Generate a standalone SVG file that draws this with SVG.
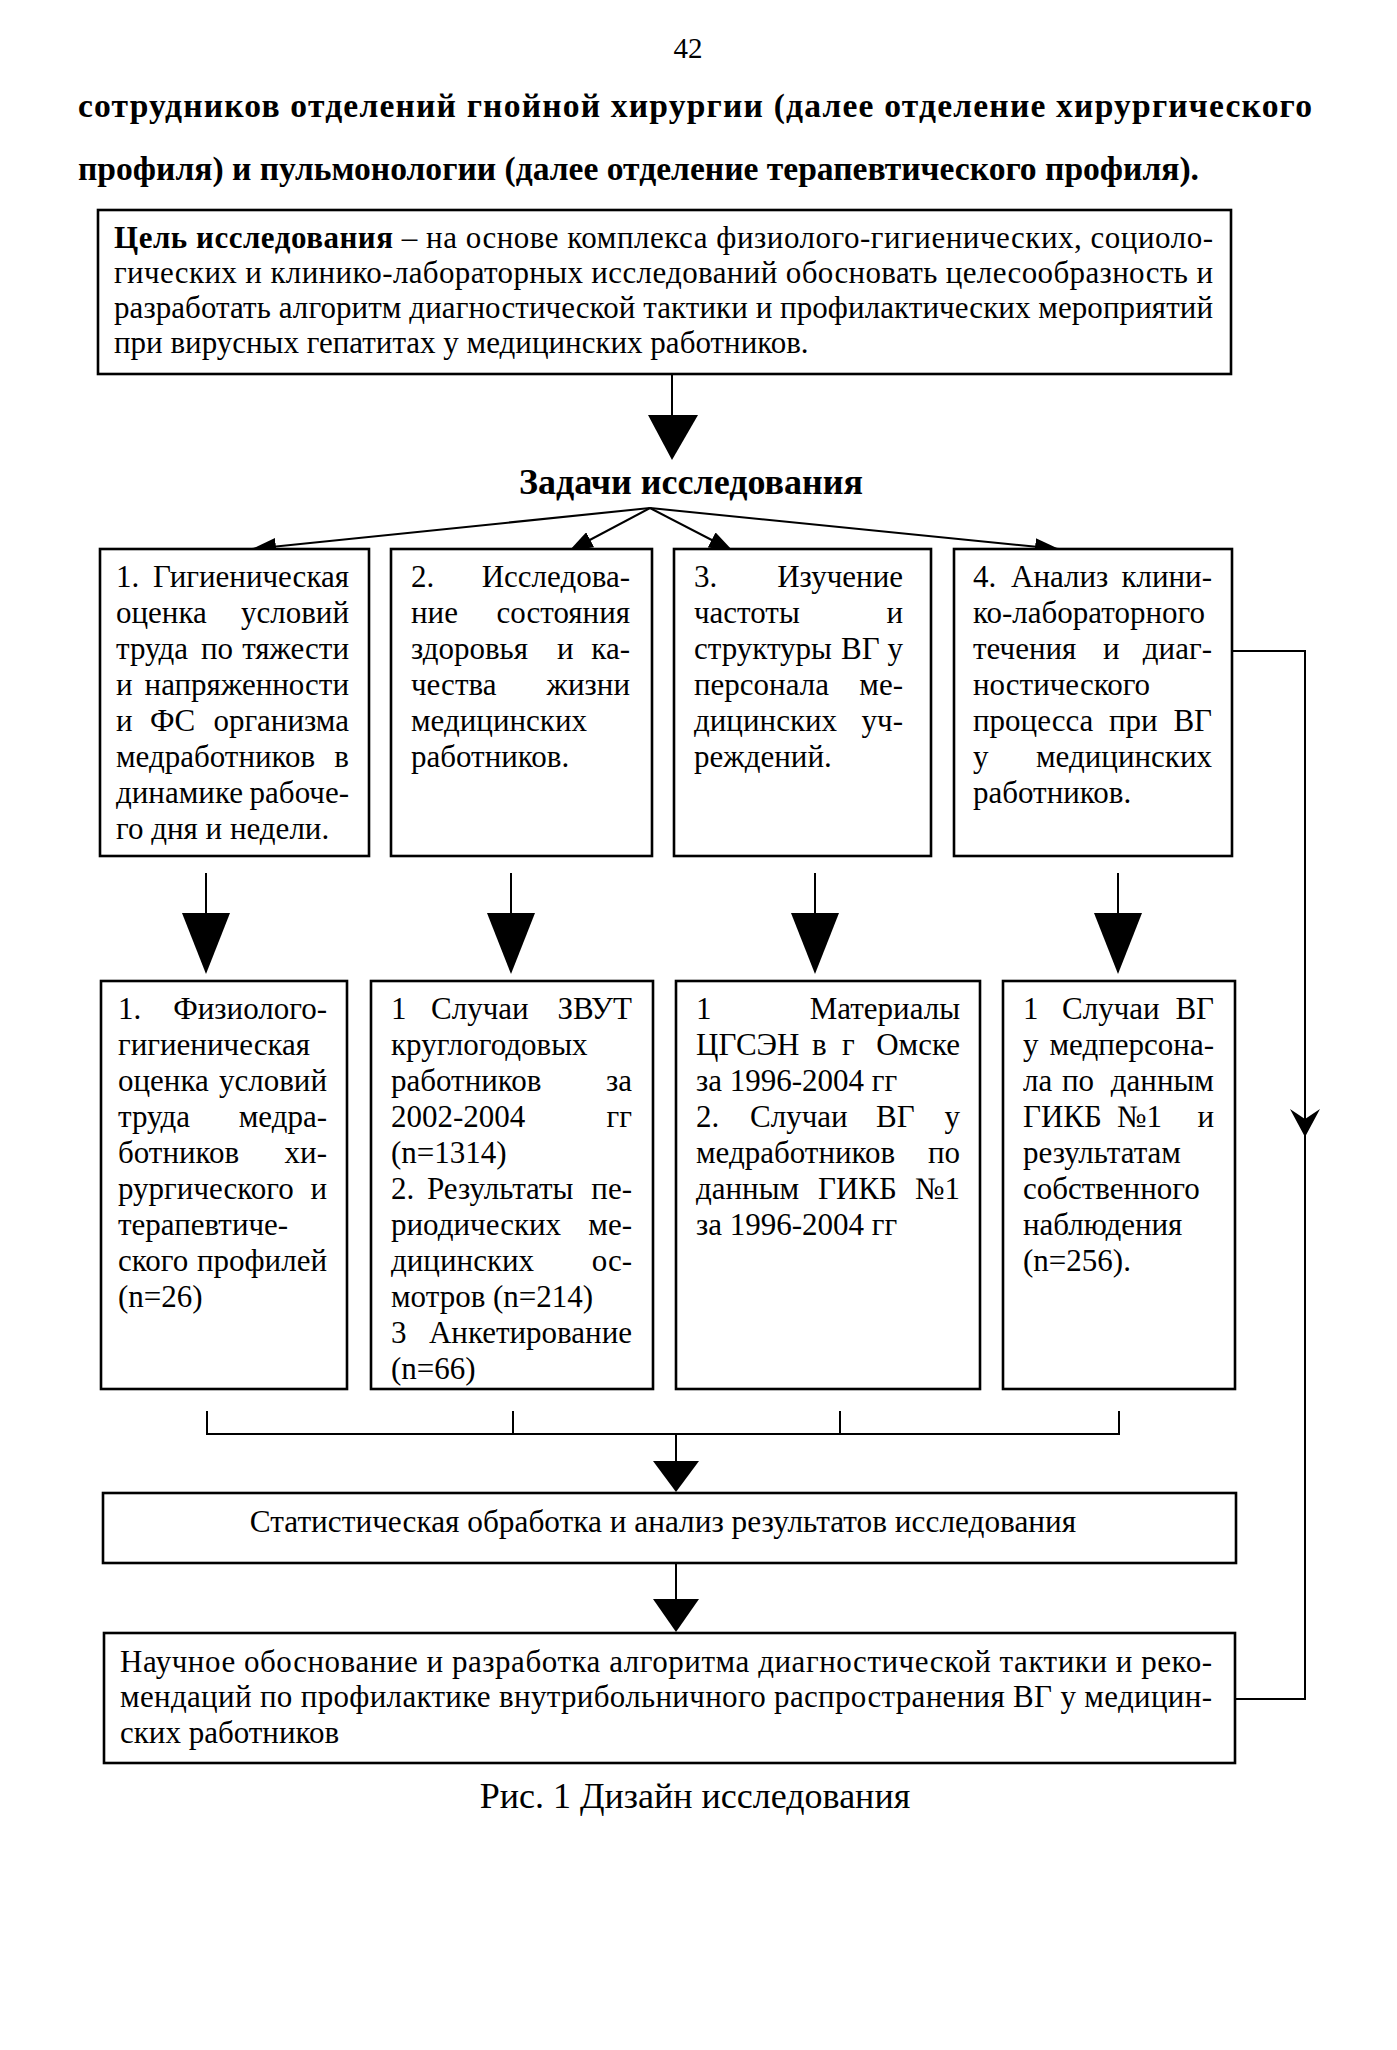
<svg xmlns="http://www.w3.org/2000/svg" width="1397" height="2050" viewBox="0 0 1397 2050">
<defs>
<style>
text{font-family:"Liberation Serif","Times New Roman",serif;fill:#000}
.p{font-size:33.6px;font-weight:bold}
.t{font-size:31px}
.b{font-weight:bold}
.h{font-size:36px;font-weight:bold}
.e{text-anchor:end}
.m{text-anchor:middle}
.box{fill:#fff;stroke:#000;stroke-width:2.6}
.ln{fill:none;stroke:#000;stroke-width:2}
.ah{fill:#000;stroke:none}
</style>
<marker id="fan" viewBox="0 0 24 17" refX="24" refY="8.5" markerWidth="24" markerHeight="17" markerUnits="userSpaceOnUse" orient="auto">
<path d="M0,0 L24,8.5 L0,17 Z" fill="#000"/>
</marker>
</defs>
<rect width="1397" height="2050" fill="#fff"/>

<g id="page-text">
<text class="m" x="688" y="58" style="font-size:29px">42</text>
<text class="p" x="78" y="117" textLength="1234" lengthAdjust="spacing">сотрудников отделений гнойной хирургии (далее отделение хирургического</text>
<text class="p" x="78" y="180">профиля) и пульмонологии (далее отделение терапевтического профиля).</text>
<text class="m" x="695" y="1808" style="font-size:36px">Рис. 1 Дизайн исследования</text>
</g>

<g id="connectors">
<line class="ln" x1="672" y1="375" x2="672" y2="418"/>
<polygon class="ah" points="648,415 698,415 672,460"/>
<line class="ln" x1="650" y1="508" x2="252" y2="549" marker-end="url(#fan)"/>
<line class="ln" x1="650" y1="508" x2="569" y2="551" marker-end="url(#fan)"/>
<line class="ln" x1="650" y1="508" x2="733" y2="551" marker-end="url(#fan)"/>
<line class="ln" x1="650" y1="508" x2="1059" y2="549" marker-end="url(#fan)"/>
<line class="ln" x1="206" y1="873" x2="206" y2="916"/>
<polygon class="ah" points="182,913 230,913 206,974"/>
<line class="ln" x1="511" y1="873" x2="511" y2="916"/>
<polygon class="ah" points="487,913 535,913 511,974"/>
<line class="ln" x1="815" y1="873" x2="815" y2="916"/>
<polygon class="ah" points="791,913 839,913 815,974"/>
<line class="ln" x1="1118" y1="873" x2="1118" y2="916"/>
<polygon class="ah" points="1094,913 1142,913 1118,974"/>
<polyline class="ln" points="207,1411 207,1434 1119,1434 1119,1411"/>
<line class="ln" x1="513" y1="1411" x2="513" y2="1434"/>
<line class="ln" x1="840" y1="1411" x2="840" y2="1434"/>
<line class="ln" x1="676" y1="1434" x2="676" y2="1465"/>
<polygon class="ah" points="653,1461 699,1461 676,1492"/>
<line class="ln" x1="676" y1="1563" x2="676" y2="1602"/>
<polygon class="ah" points="653,1599 699,1599 676,1632"/>
<polyline class="ln" points="1232,651 1305,651 1305,1699 1235,1699"/>
<path class="ah" d="M1305,1137 L1290,1109 L1305,1119 L1320,1109 Z"/>
</g>

<g id="goal">
<rect class="box" x="98" y="210" width="1133" height="164"/>
<text class="t" x="114" y="248" textLength="1099" lengthAdjust="spacing"><tspan class="b">Цель исследования</tspan> – на основе комплекса физиолого-гигиенических, социоло-</text>
<text class="t" x="114" y="283" textLength="1099" lengthAdjust="spacing">гических и клинико-лабораторных исследований обосновать целесообразность и</text>
<text class="t" x="114" y="318" textLength="1099" lengthAdjust="spacing">разработать алгоритм диагностической тактики и профилактических мероприятий</text>
<text class="t" x="114" y="353">при вирусных гепатитах у медицинских работников.</text>
</g>

<g id="tasks-title">
<text class="h m" x="691" y="494">Задачи исследования</text>
</g>

<g id="task1">
<rect class="box" x="100" y="549" width="269" height="307"/>
<text class="t" x="116" y="587">1.</text><text class="t e" x="349" y="587">Гигиеническая</text>
<text class="t" x="116" y="623">оценка</text><text class="t e" x="349" y="623">условий</text>
<text class="t" x="116" y="659">труда</text><text class="t" x="201" y="659">по</text><text class="t e" x="349" y="659">тяжести</text>
<text class="t" x="116" y="695">и</text><text class="t e" x="349" y="695">напряженности</text>
<text class="t" x="116" y="731">и</text><text class="t" x="150" y="731">ФС</text><text class="t e" x="349" y="731">организма</text>
<text class="t" x="116" y="767">медработников</text><text class="t e" x="349" y="767">в</text>
<text class="t" x="116" y="803">динамике</text><text class="t e" x="349" y="803">рабоче-</text>
<text class="t" x="116" y="839">го дня и недели.</text>
</g>

<g id="task2">
<rect class="box" x="391" y="549" width="261" height="307"/>
<text class="t" x="411" y="587">2.</text><text class="t e" x="630" y="587">Исследова-</text>
<text class="t" x="411" y="623">ние</text><text class="t e" x="630" y="623">состояния</text>
<text class="t" x="411" y="659">здоровья</text><text class="t" x="557" y="659">и</text><text class="t e" x="630" y="659">ка-</text>
<text class="t" x="411" y="695">чества</text><text class="t e" x="630" y="695">жизни</text>
<text class="t" x="411" y="731">медицинских</text>
<text class="t" x="411" y="767">работников.</text>
</g>

<g id="task3">
<rect class="box" x="674" y="549" width="257" height="307"/>
<text class="t" x="694" y="587">3.</text><text class="t e" x="903" y="587">Изучение</text>
<text class="t" x="694" y="623">частоты</text><text class="t e" x="903" y="623">и</text>
<text class="t" x="694" y="659">структуры</text><text class="t" x="841" y="659">ВГ</text><text class="t e" x="903" y="659">у</text>
<text class="t" x="694" y="695">персонала</text><text class="t e" x="903" y="695">ме-</text>
<text class="t" x="694" y="731">дицинских</text><text class="t e" x="903" y="731">уч-</text>
<text class="t" x="694" y="767">реждений.</text>
</g>

<g id="task4">
<rect class="box" x="954" y="549" width="278" height="307"/>
<text class="t" x="973" y="587">4.</text><text class="t" x="1011" y="587">Анализ</text><text class="t e" x="1212" y="587">клини-</text>
<text class="t" x="973" y="623">ко-лабораторного</text>
<text class="t" x="973" y="659">течения</text><text class="t" x="1103" y="659">и</text><text class="t e" x="1212" y="659">диаг-</text>
<text class="t" x="973" y="695">ностического</text>
<text class="t" x="973" y="731">процесса</text><text class="t" x="1109" y="731">при</text><text class="t e" x="1212" y="731">ВГ</text>
<text class="t" x="973" y="767">у</text><text class="t e" x="1212" y="767">медицинских</text>
<text class="t" x="973" y="803">работников.</text>
</g>

<g id="data1">
<rect class="box" x="101" y="981" width="246" height="408"/>
<text class="t" x="118" y="1019">1.</text><text class="t e" x="327" y="1019">Физиолого-</text>
<text class="t" x="118" y="1055">гигиеническая</text>
<text class="t" x="118" y="1091">оценка</text><text class="t e" x="327" y="1091">условий</text>
<text class="t" x="118" y="1127">труда</text><text class="t e" x="327" y="1127">медра-</text>
<text class="t" x="118" y="1163">ботников</text><text class="t e" x="327" y="1163">хи-</text>
<text class="t" x="118" y="1199">рургического</text><text class="t e" x="327" y="1199">и</text>
<text class="t" x="118" y="1235">терапевтиче-</text>
<text class="t" x="118" y="1271">ского</text><text class="t e" x="327" y="1271">профилей</text>
<text class="t" x="118" y="1307">(n=26)</text>
</g>

<g id="data2">
<rect class="box" x="371" y="981" width="282" height="408"/>
<text class="t" x="391" y="1019">1</text><text class="t" x="431" y="1019">Случаи</text><text class="t e" x="632" y="1019">ЗВУТ</text>
<text class="t" x="391" y="1055">круглогодовых</text>
<text class="t" x="391" y="1091">работников</text><text class="t e" x="632" y="1091">за</text>
<text class="t" x="391" y="1127">2002-2004</text><text class="t e" x="632" y="1127">гг</text>
<text class="t" x="391" y="1163">(n=1314)</text>
<text class="t" x="391" y="1199">2.</text><text class="t" x="427" y="1199">Результаты</text><text class="t e" x="632" y="1199">пе-</text>
<text class="t" x="391" y="1235">риодических</text><text class="t e" x="632" y="1235">ме-</text>
<text class="t" x="391" y="1271">дицинских</text><text class="t e" x="632" y="1271">ос-</text>
<text class="t" x="391" y="1307">мотров (n=214)</text>
<text class="t" x="391" y="1343">3</text><text class="t e" x="632" y="1343">Анкетирование</text>
<text class="t" x="391" y="1379">(n=66)</text>
</g>

<g id="data3">
<rect class="box" x="676" y="981" width="304" height="408"/>
<text class="t" x="696" y="1019">1</text><text class="t e" x="960" y="1019">Материалы</text>
<text class="t" x="696" y="1055">ЦГСЭН</text><text class="t" x="812" y="1055">в</text><text class="t" x="842" y="1055">г</text><text class="t e" x="960" y="1055">Омске</text>
<text class="t" x="696" y="1091">за 1996-2004 гг</text>
<text class="t" x="696" y="1127">2.</text><text class="t" x="750" y="1127">Случаи</text><text class="t" x="876" y="1127">ВГ</text><text class="t e" x="960" y="1127">у</text>
<text class="t" x="696" y="1163">медработников</text><text class="t e" x="960" y="1163">по</text>
<text class="t" x="696" y="1199">данным</text><text class="t" x="818" y="1199">ГИКБ</text><text class="t e" x="960" y="1199">№1</text>
<text class="t" x="696" y="1235">за 1996-2004 гг</text>
</g>

<g id="data4">
<rect class="box" x="1003" y="981" width="232" height="408"/>
<text class="t" x="1023" y="1019">1</text><text class="t" x="1062" y="1019">Случаи</text><text class="t e" x="1214" y="1019">ВГ</text>
<text class="t" x="1023" y="1055">у</text><text class="t e" x="1214" y="1055">медперсона-</text>
<text class="t" x="1023" y="1091">ла</text><text class="t" x="1062" y="1091">по</text><text class="t e" x="1214" y="1091">данным</text>
<text class="t" x="1023" y="1127">ГИКБ</text><text class="t" x="1117" y="1127">№1</text><text class="t e" x="1214" y="1127">и</text>
<text class="t" x="1023" y="1163">результатам</text>
<text class="t" x="1023" y="1199">собственного</text>
<text class="t" x="1023" y="1235">наблюдения</text>
<text class="t" x="1023" y="1271">(n=256).</text>
</g>

<g id="stats">
<rect class="box" x="103" y="1493" width="1133" height="70"/>
<text class="t m" x="663" y="1532" style="font-size:31.3px">Статистическая обработка и анализ результатов исследования</text>
</g>

<g id="result">
<rect class="box" x="104" y="1633" width="1131" height="130"/>
<text class="t" x="120" y="1672" textLength="1092" lengthAdjust="spacing">Научное обоснование и разработка алгоритма диагностической тактики и реко-</text>
<text class="t" x="120" y="1707" textLength="1092" lengthAdjust="spacing">мендаций по профилактике внутрибольничного распространения ВГ у медицин-</text>
<text class="t" x="120" y="1743">ских работников</text>
</g>
</svg>
